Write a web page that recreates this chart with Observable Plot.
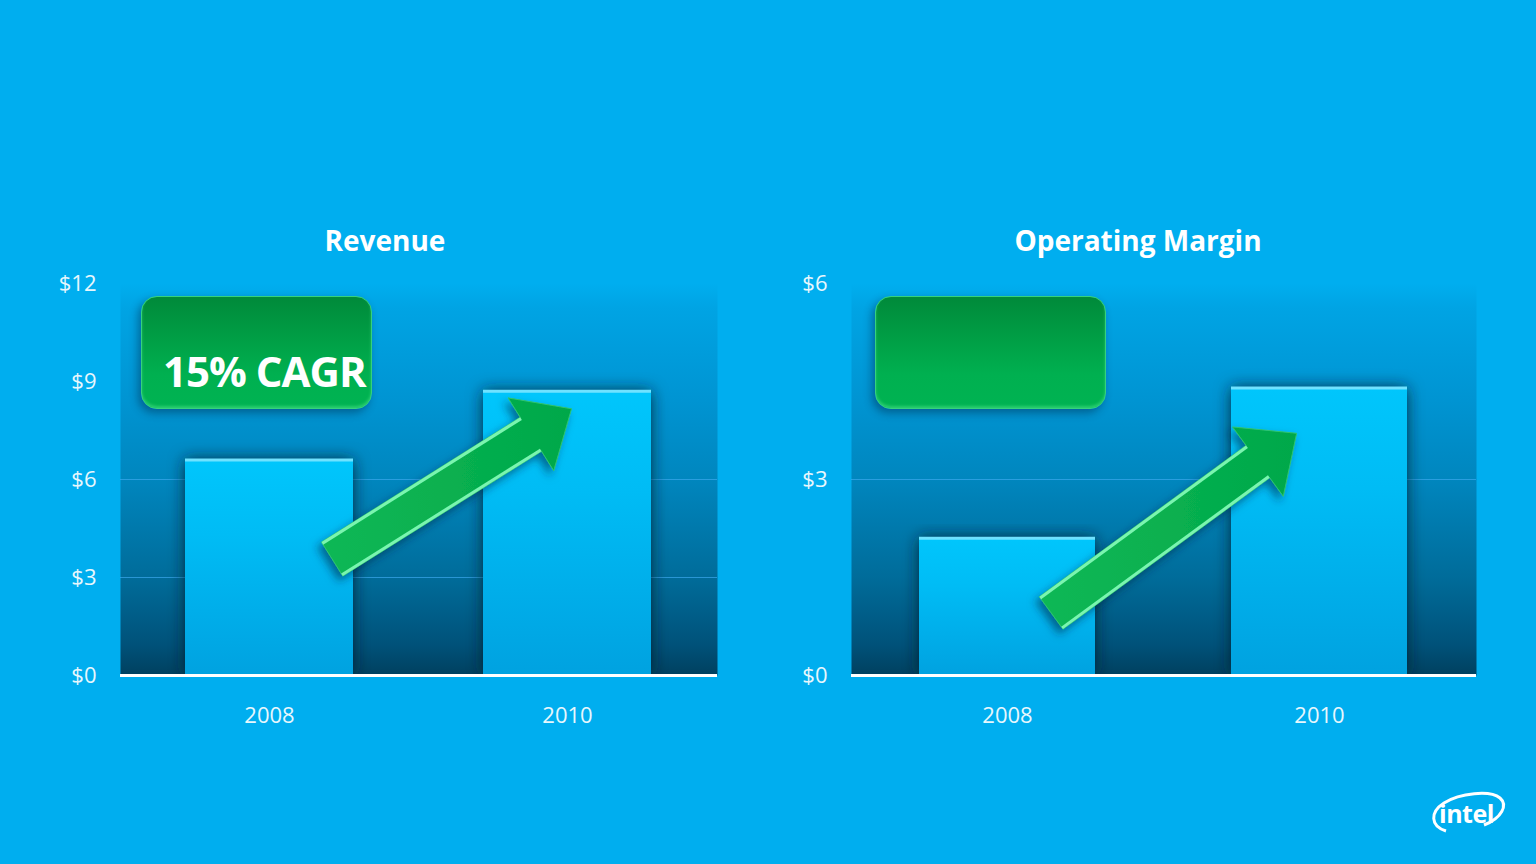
<!DOCTYPE html>
<html>
<head>
<meta charset="utf-8">
<script src="https://cdn.jsdelivr.net/npm/d3@7"></script>
<script src="https://cdn.jsdelivr.net/npm/@observablehq/plot@0.6"></script>
<style>
  html, body { margin: 0; padding: 0; }
  body { width: 1536px; height: 864px; background: #00aeef; position: relative; overflow: hidden; font-family: "Open Sans", "Noto Sans", sans-serif; }
  .title { position: absolute; top: 220px; color: #fff; font-weight: 700; font-size: 28px; text-align: center; width: 500px; line-height: 40px; }
  .chart { position: absolute; top: 270px; }
  .box { position: absolute; top: 296px; width: 229px; height: 111px; border-radius: 16px;
         background: linear-gradient(#008a3a 0%, #00a046 40%, #00b050 70%, #00b352 100%);
         border: 1px solid #35d27c; box-shadow: -3px 4px 8px rgba(0,40,70,0.45), inset 0 -2px 3px rgba(120,255,170,0.35); }
  .box span { position: absolute; left: 21px; top: 45px; color: #fff; font-weight: 700; font-size: 42px; line-height: 58px; letter-spacing: -1px; white-space: nowrap; }
  #logo { position: absolute; left: 1426px; top: 782px; }
</style>
</head>
<body>
<div class="title" style="left:135px">Revenue</div>
<div class="title" style="left:888px">Operating Margin</div>
<div id="left" class="chart" style="left:0px"></div>
<div id="right" class="chart" style="left:760px"></div>
<div class="box" style="left:141px"><span>15% CAGR</span></div>
<div class="box" style="left:875px"></div>
<svg id="logo" width="84" height="56" viewBox="0 0 84 56">
  <path d="M 20 49 C 4 44 4 30 18 21 C 34 11 64 8 74 16 C 82 23 76 36 58 43" fill="none" stroke="#fff" stroke-width="3"/>
  <text x="13" y="41" fill="#fff" font-family="Open Sans, sans-serif" font-weight="700" font-size="25" letter-spacing="-0.5">intel</text>
</svg>
<script>
// ---- data ----
const years = ["2008", "2010"];
const revenue = [6.6, 8.7];
const opMargin = [2.1, 4.4];
const revenueTicks = [0, 3, 6, 9, 12];
const marginTicks = [0, 3, 6];
const revenueGrid = [3, 6];
const marginGrid = [3];
// growth arrows: [tail value, tip value] in the chart's y units
const revenueArrow = [3.55, 8.15];
const marginArrow = [0.95, 3.7];

const tickFmt = d => "$" + d;

function arrowMark(values, tailFrac, tipFrac, id) {
  return (index, scales) => {
    const x = scales.x, y = scales.y;
    const step = x(years[1]) - x(years[0]);
    const bw = x.bandwidth ? x.bandwidth() : step * (1 - 0.435);
    const T = [x(years[0]) + bw * tailFrac, y(values[0])];
    const P = [x(years[1]) + bw * tipFrac, y(values[1])];
    const dx = P[0] - T[0], dy = P[1] - T[1], len = Math.hypot(dx, dy);
    const u = [dx / len, dy / len], n = [-u[1], u[0]];
    const sw = 20, hw = 43, hl = 48;
    const H = [P[0] - u[0] * hl, P[1] - u[1] * hl];
    const pt = (b, k) => [b[0] + n[0] * k, b[1] + n[1] * k];
    const poly = [pt(T, sw), pt(H, sw), pt(H, hw), P, pt(H, -hw), pt(H, -sw), pt(T, -sw)];
    const g = d3.create("svg:g").attr("filter", `url(#shadow-${id})`);
    g.append("path").attr("d", "M" + poly.map(p => p.join(",")).join("L") + "Z")
      .attr("fill", `url(#arrow-${id})`).attr("stroke", "#2fc46e").attr("stroke-width", 1);
    const e1 = [pt(T, sw - 1.5), pt(H, sw - 1.5)], e2 = [pt(T, -sw + 1.5), pt(H, -sw + 1.5)];
    for (const e of [e1, e2]) {
      g.append("path").attr("d", "M" + e.map(p => p.join(",")).join("L"))
        .attr("stroke", "#7af5b0").attr("stroke-width", 3).attr("fill", "none");
    }
    return g.node();
  };
}

function chart({id, values, ticks, grid, domain, arrow, tailFrac, tipFrac, width, ml, mr}) {
  const data = years.map((year, i) => ({year, value: values[i]}));
  const svg = Plot.plot({
    width, height: 470,
    marginLeft: ml, marginRight: mr, marginTop: 13, marginBottom: 65,
    style: {background: "transparent", color: "#e8f7fd", fontSize: "22px", fontFamily: "Open Sans, sans-serif", overflow: "visible"},
    x: {domain: years, paddingInner: 0.435, paddingOuter: 0.216, tickSize: 0, tickPadding: 32, label: null},
    y: {domain, ticks, tickFormat: tickFmt, tickSize: 0, tickPadding: 24, label: null},
    marks: [
      Plot.frame({fill: `url(#bg-${id})`, stroke: "none"}),
      Plot.ruleY(grid, {stroke: "#3aa8ec", strokeOpacity: 0.7, strokeWidth: 1}),
      Plot.barY(data, {x: "year", y: "value", fill: `url(#bar-${id})`}),
      Plot.tickY(data, {x: "year", y: "value", stroke: "#6fe2ff", strokeWidth: 3}),
      Plot.ruleY([0], {stroke: "#ffffff", strokeWidth: 3}),
      arrowMark(arrow, tailFrac, tipFrac, id)
    ]
  });
  const defs = d3.select(svg).insert("defs", ":first-child");
  const bg = defs.append("linearGradient").attr("id", `bg-${id}`).attr("x1", 0).attr("x2", 0).attr("y1", 0).attr("y2", 1);
  [[0, "#00aeef"], [0.06, "#00a4e4"], [0.3, "#0094d2"], [0.5, "#0086be"], [0.75, "#006c9a"], [0.92, "#00527a"], [1, "#00405f"]]
    .forEach(([o, c]) => bg.append("stop").attr("offset", o).attr("stop-color", c));
  const bar = defs.append("linearGradient").attr("id", `bar-${id}`).attr("x1", 0).attr("x2", 0).attr("y1", 0).attr("y2", 1);
  [[0, "#00c6fc"], [0.35, "#00bcf5"], [0.7, "#00aeea"], [1, "#00a2e0"]]
    .forEach(([o, c]) => bar.append("stop").attr("offset", o).attr("stop-color", c));
  const ar = defs.append("linearGradient").attr("id", `arrow-${id}`).attr("x1", 0).attr("x2", 1).attr("y1", 0).attr("y2", 0);
  [[0, "#10b855"], [1, "#00a84a"]].forEach(([o, c]) => ar.append("stop").attr("offset", o).attr("stop-color", c));
  const f = defs.append("filter").attr("id", `shadow-${id}`).attr("x", "-30%").attr("y", "-30%").attr("width", "160%").attr("height", "160%");
  f.append("feDropShadow").attr("dx", -4).attr("dy", 5).attr("stdDeviation", 4).attr("flood-color", "#002a44").attr("flood-opacity", 0.55);
  const fb = defs.append("filter").attr("id", `barshadow-${id}`).attr("x", "-30%").attr("y", "-10%").attr("width", "160%").attr("height", "110%");
  fb.append("feDropShadow").attr("dx", 0).attr("dy", 0).attr("stdDeviation", 8).attr("flood-color", "#001a2c").attr("flood-opacity", 0.85);
  d3.select(svg).selectAll('g[aria-label="bar"] rect').attr("filter", `url(#barshadow-${id})`);
  return svg;
}

document.getElementById("left").append(chart({
  id: "rev", values: revenue, ticks: revenueTicks, grid: revenueGrid, domain: [0, 12],
  arrow: revenueArrow, tailFrac: 0.876, tipFrac: 0.527, width: 760, ml: 120, mr: 43
}));
document.getElementById("right").append(chart({
  id: "om", values: opMargin, ticks: marginTicks, grid: marginGrid, domain: [0, 6],
  arrow: marginArrow, tailFrac: 0.751, tipFrac: 0.373, width: 776, ml: 91, mr: 60
}));
</script>
</body>
</html>
